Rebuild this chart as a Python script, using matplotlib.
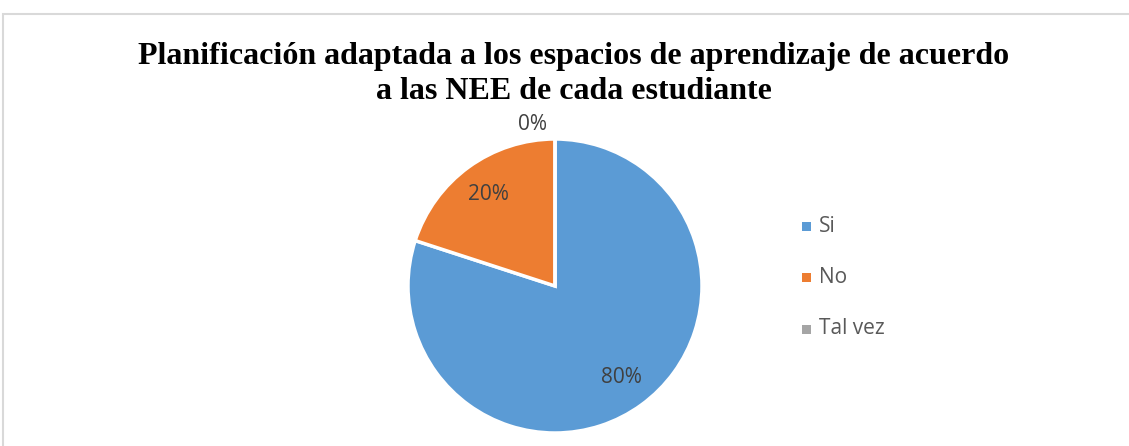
import matplotlib.pyplot as plt
from matplotlib.patches import Rectangle

# --- Data ---
TITLE_TEXT = "Planificación adaptada a los espacios de aprendizaje de acuerdo\na las NEE de cada estudiante"
categories = ["Si", "No", "Tal vez"]
values = [80, 20, 0]
colors = ["#5B9BD5", "#ED7D31", "#A5A5A5"]

W, H = 1129, 446
fig = plt.figure(figsize=(W / 100, H / 100), dpi=100, facecolor="white")

# chart frame (cut off at right and bottom like the screenshot)
fig.add_artist(Rectangle((3 / W, -0.05), 1.2, 1 - 14 / H + 0.05, transform=fig.transFigure,
                         fill=False, edgecolor="#D9D9D9", linewidth=1.5))

# pie axes: centre (555, 286), radius ~147 px
r = 147
ax = fig.add_axes([(555 - r) / W, 1 - (286 + r) / H, 2 * r / W, 2 * r / H])
wedges, texts, autotexts = ax.pie(values, colors=colors, startangle=90, counterclock=False,
                                  autopct="%1.0f%%", pctdistance=0.77,
                                  wedgeprops=dict(edgecolor="white", linewidth=2.5),
                                  textprops=dict(color="#404040", fontsize=15, family="Open Sans"))
ax.set_xlim(-1, 1)
ax.set_ylim(-1, 1)
ax.set_aspect("equal")

# the empty slice gets its label just outside the top
autotexts[2].set_position((-0.15, 1.1))

fig.text(0.508, 0.834, TITLE_TEXT, ha="center", va="center", fontsize=23,
         fontweight="bold", family="Liberation Serif", linespacing=1.25)

# legend
for i, (cat, col) in enumerate(zip(categories, colors)):
    y = 1 - (226 + 51.5 * i) / H
    fig.add_artist(Rectangle((802 / W, y - 4.5 / H), 9 / W, 9 / H, transform=fig.transFigure,
                             facecolor=col, edgecolor="none"))
    fig.text(819 / W, y, cat, ha="left", va="center", fontsize=15,
             color="#595959", family="Open Sans")

fig.savefig("out.png", dpi=100, facecolor="white")
